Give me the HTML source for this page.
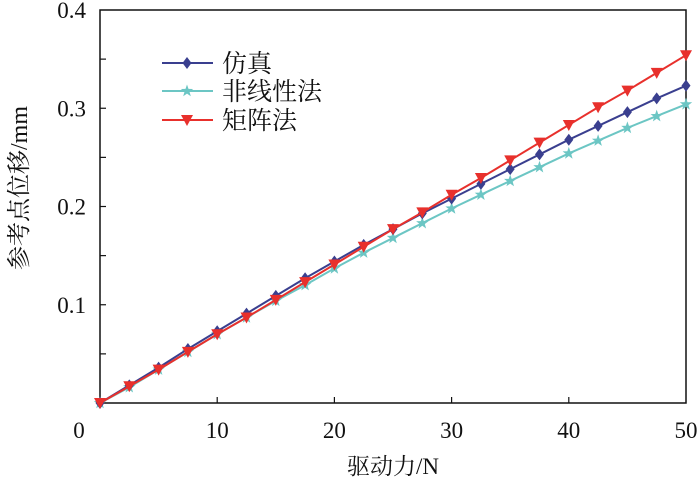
<!DOCTYPE html>
<html><head><meta charset="utf-8"><style>
body{margin:0;background:#fff}
text{font-family:"Liberation Serif","Noto Serif CJK SC",serif;fill:#111}
</style></head><body>
<svg id="c" width="700" height="483" xmlns="http://www.w3.org/2000/svg"></svg>
<script>
const xs=[0,2.5,5,7.5,10,12.5,15,17.5,20,22.5,25,27.5,30,32.5,35,37.5,40,42.5,45,47.5,50];
const simVals=[0,0.018,0.036,0.055,0.073,0.091,0.109,0.127,0.144,0.161,0.177,0.193,0.208,0.223,0.238,0.253,0.268,0.282,0.296,0.310,0.323];
const nonlinVals=[0,0.016,0.034,0.052,0.070,0.087,0.104,0.120,0.137,0.153,0.168,0.183,0.198,0.212,0.226,0.240,0.254,0.267,0.280,0.292,0.304];
const matrixVals=[0,0.017,0.034,0.052,0.070,0.087,0.105,0.123,0.141,0.159,0.177,0.194,0.212,0.229,0.247,0.265,0.283,0.301,0.318,0.336,0.354];
const xTicks=[0,10,20,30,40,50];
const yTicks=[0.1,0.2,0.3,0.4];
const yMinor=[0.05,0.15,0.25,0.35];
const svg=document.getElementById('c');const NS='http://www.w3.org/2000/svg';
const L=100,R=686,T=10,B=403;
const sx=v=>L+(R-L)*v/50, sy=v=>B-(B-T)*v/0.4;
function mk(t,a,p){const e=document.createElementNS(NS,t);for(const k in a)e.setAttribute(k,a[k]);(p||svg).appendChild(e);return e;}
const frame=mk('rect',{x:L,y:T,width:R-L,height:B-T,fill:'none',stroke:'#111','stroke-width':1.5});


xTicks.forEach(v=>{
 if(v>0&&v<50){const t=mk('line',{x1:sx(v),x2:sx(v),y1:B,y2:B-6,stroke:'#111','stroke-width':1.2});
 
 }
 const l=mk('text',{x:v==0?79:sx(v),y:438,'font-size':23,'text-anchor':'middle'});l.textContent=v;
 
 
});
yTicks.concat(yMinor).forEach(v=>{
 if(v<0.4){const t=mk('line',{x1:L,x2:L+6,y1:sy(v),y2:sy(v),stroke:'#111','stroke-width':1.2});
 
 }
});
yTicks.forEach(v=>{
 const l=mk('text',{x:86,y:sy(v)+8,'font-size':23,'text-anchor':'end'});l.textContent=v.toFixed(1);
 
 
});
const xl=mk('text',{x:393,y:474,'font-size':23,'text-anchor':'middle'});xl.textContent='驱动力/N';


const yl=mk('text',{x:0,y:0,'font-size':24,'text-anchor':'middle',transform:'translate(27,188) rotate(-90)'});yl.textContent='参考点位移/mm';


function marker(kind,x,y,col,g){
 if(kind=='d')return mk('polygon',{points:`${x},${y-6} ${x+4.5},${y} ${x},${y+6} ${x-4.5},${y}`,fill:col},g);
 if(kind=='t')return mk('polygon',{points:`${x-6},${y-5} ${x+6},${y-5} ${x},${y+6}`,fill:col},g);
 let p=[];for(let i=0;i<10;i++){const r=i%2?2.6:6.5,a=-Math.PI/2+i*Math.PI/5;p.push((x+r*Math.cos(a)).toFixed(1)+','+(y+r*Math.sin(a)).toFixed(1));}
 return mk('polygon',{points:p.join(' '),fill:col},g);
}
const series=[
 {name:'仿真',vals:simVals,col:'#3a3f8f',m:'d',dn:'series-simulation',ly:63},
 {name:'非线性法',vals:nonlinVals,col:'#6cc6c4',m:'s',dn:'series-nonlinear',ly:91},
 {name:'矩阵法',vals:matrixVals,col:'#e8302c',m:'t',dn:'series-matrix',ly:120}
];
[series[1],series[0],series[2]].forEach(s=>{
 const g=mk('g',{});
 
 
 mk('polyline',{points:xs.map((x,i)=>sx(x)+','+sy(s.vals[i])).join(' '),fill:'none',stroke:s.col,'stroke-width':2},g);
 xs.forEach((x,i)=>{const p=marker(s.m,sx(x),sy(s.vals[i]),s.col,g);
  
  });
});
series.forEach(s=>{
 const g=mk('g',{});
 
 
 mk('line',{x1:162,x2:213,y1:s.ly,y2:s.ly,stroke:s.col,'stroke-width':2},g);
 marker(s.m,187,s.ly,s.col,g);
 const t=mk('text',{x:222,y:s.ly+9,'font-size':25},g);t.textContent=s.name;
});
</script>
</body></html>
